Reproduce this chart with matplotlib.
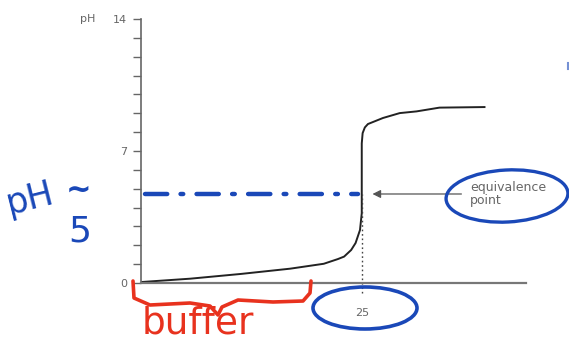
import matplotlib.pyplot as plt
from matplotlib.patches import Ellipse
from matplotlib.path import Path
from matplotlib.patches import PathPatch

# titration curve (volume added vs pH)
volume = [0, 5.6, 11.3, 16.9, 20.7, 22.3, 23.0, 23.8, 24.3, 24.8, 25.0,
          25.0, 25.1, 25.35, 25.7, 27.4, 29.3, 31.2, 33.8, 38.9]
ph = [0.05, 0.23, 0.48, 0.76, 1.02, 1.27, 1.40, 1.75, 2.12, 2.81, 3.7,
      7.4, 7.95, 8.25, 8.43, 8.75, 9.01, 9.10, 9.30, 9.33]

y_ticks = [0, 7, 14]
y_minor = list(range(0, 15))
equiv_volume = 25
equiv_ph = 4.72

BLUE = '#1a48b8'
RED = '#e8321e'
GRAY = '#666666'

fig = plt.figure(figsize=(5.69, 3.45), dpi=100)
W, H = 569, 345
ax = fig.add_axes([141 / W, (H - 283) / H, 385 / W, 264 / H])

# the curve
ax.plot(volume, ph, color='#222222', lw=1.4, solid_joinstyle='round')

ax.set_xlim(0, 43.6)
ax.set_ylim(0, 14)
for s in ['top', 'right']:
    ax.spines[s].set_visible(False)
ax.spines['left'].set_color(GRAY)
ax.spines['bottom'].set_color('#777777')
ax.spines['bottom'].set_linewidth(1.6)
ax.spines['left'].set_linewidth(1.2)

ax.set_yticks(y_ticks)
ax.set_yticks(y_minor, minor=True)
ax.set_yticklabels([str(t) for t in y_ticks], color=GRAY, fontsize=8)
ax.tick_params(axis='y', which='both', direction='out', length=6,
               width=1, color=GRAY, pad=4)
ax.set_xticks([equiv_volume])
ax.set_xticklabels(['25'], color=GRAY, fontsize=8)
ax.tick_params(axis='x', direction='inout', length=0, pad=18)
ax.text(-0.158, 1.0, 'pH', transform=ax.transAxes, color=GRAY,
        fontsize=8, va='center', ha='left')

# dotted guide at the equivalence volume
ax.plot([equiv_volume, equiv_volume], [-0.55, equiv_ph], ls=(0, (1.2, 2)),
        color='#444444', lw=1, clip_on=False)

# arrow + label
ax.annotate('', xy=(25.9, equiv_ph), xytext=(36.6, equiv_ph),
            arrowprops=dict(arrowstyle='-|>', color='#555555', lw=0.9,
                            mutation_scale=12))
ax.text(37.3, equiv_ph + 0.0, 'equivalence\npoint', color=GRAY,
        fontsize=9, va='center', ha='left', linespacing=1.0)

# blue hand drawn dash-dot line
ax.plot([0.4, 24.6], [equiv_ph, equiv_ph], color=BLUE, lw=3.2,
        ls=(0, (5, 3, 0.6, 3)), solid_capstyle='round',
        dash_capstyle='round', clip_on=False)

# overlay in pixel coords for the handwriting
ov = fig.add_axes([0, 0, 1, 1], facecolor='none')
ov.set_xlim(0, W)
ov.set_ylim(H, 0)
ov.axis('off')

ov.add_patch(Ellipse((507, 196), 122, 52, angle=-3, fill=False,
                     ec=BLUE, lw=2.4))
ov.add_patch(Ellipse((365, 308), 104, 42, angle=0, fill=False,
                     ec=BLUE, lw=2.6))
ov.plot([568, 568], [63, 69], color=BLUE, lw=1.5, alpha=0.6)

ov.text(30, 199, 'pH', color=BLUE, fontsize=25, rotation=14,
        ha='center', va='center', family='DejaVu Sans')
ov.text(79, 190, '~', color=BLUE, fontsize=22, ha='center', va='center',
        fontweight='bold')
ov.text(80, 232, '5', color=BLUE, fontsize=26, ha='center', va='center')

# red brace
pts = [(133, 281), (134, 298), (150, 305), (190, 303), (210, 306),
       (218, 315), (222, 307), (238, 300), (273, 302), (303, 301),
       (310, 293), (311, 281)]
codes = [Path.MOVETO] + [Path.LINETO] * (len(pts) - 1)
ov.add_patch(PathPatch(Path(pts, codes), fill=False, ec=RED, lw=2.6,
                       capstyle='round', joinstyle='round'))
ov.text(198, 334, 'buffer', color=RED, fontsize=27, ha='center',
        va='baseline')

fig.savefig('out.png', dpi=100)
